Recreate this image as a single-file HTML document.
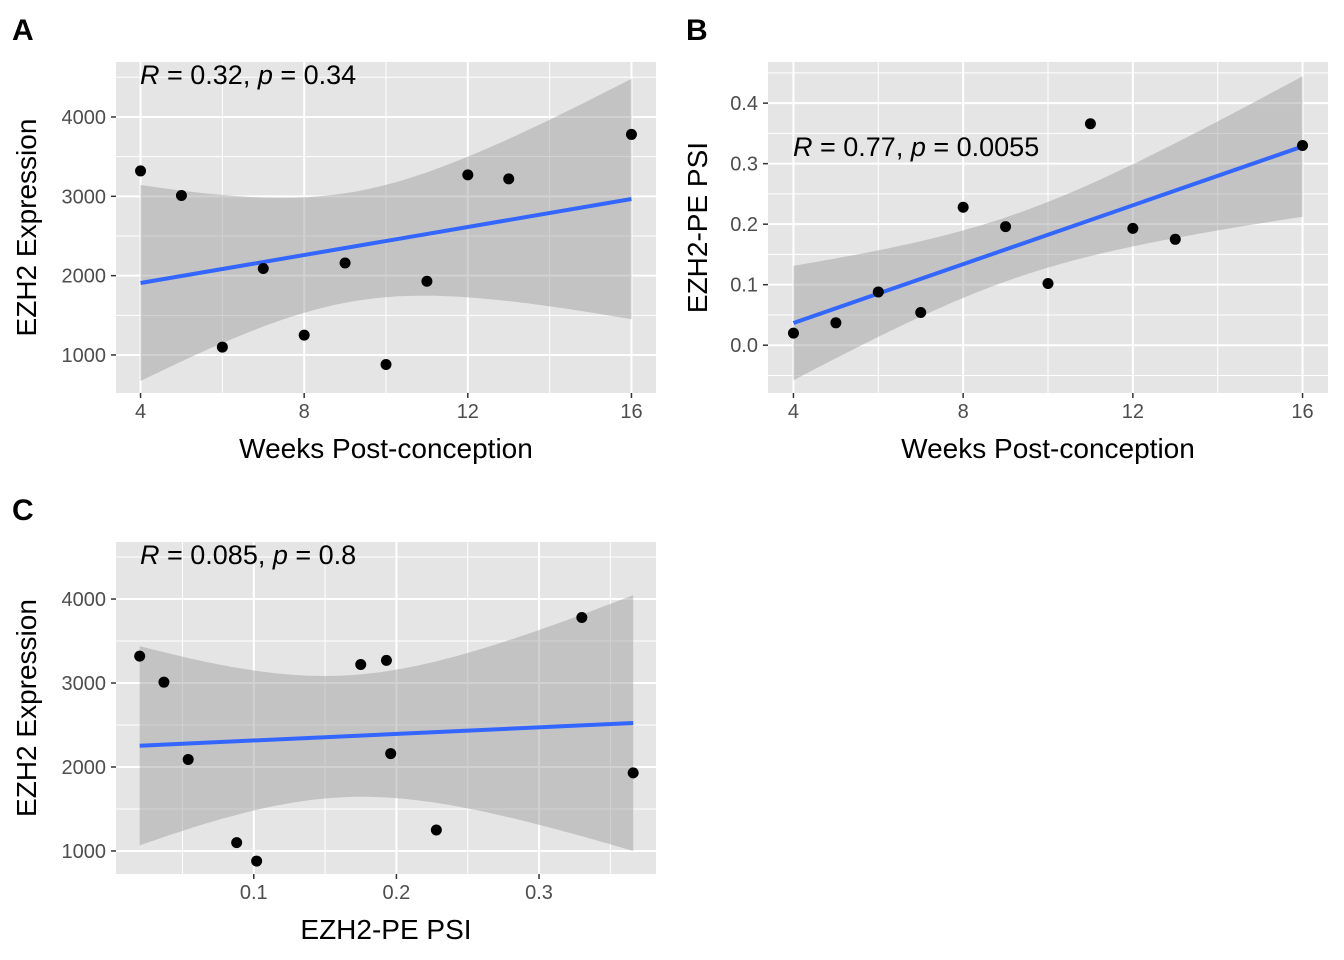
<!DOCTYPE html>
<html><head><meta charset="utf-8">
<style>
html,body{margin:0;padding:0;background:#fff;}
svg{display:block;font-family:"Liberation Sans",Arial,sans-serif;}
</style></head>
<body>
<svg id="fig" width="1344" height="960" viewBox="0 0 1344 960" xmlns="http://www.w3.org/2000/svg"></svg>
<script>
const weeks = [4,5,6,7,8,9,10,11,12,13,16];
const expression = [3320,3010,1100,2090,1250,2160,880,1930,3270,3220,3780];
const psi = [0.020,0.037,0.088,0.054,0.228,0.196,0.102,0.366,0.193,0.175,0.330];
const weekTicks = [4,8,12,16];
const weekMinor = [6,10,14];
const exprTicks = [1000,2000,3000,4000];
const exprMinor = [500,1500,2500,3500,4500];
const psiTicks = [0.0,0.1,0.2,0.3,0.4];
const psiMinor = [-0.05,0.05,0.15,0.25,0.35,0.45];
const psiXTicks = [0.1,0.2,0.3];
const psiXMinor = [0.05,0.15,0.25,0.35];
const statsA = ["0.32","0.34"];
const statsB = ["0.77","0.0055"];
const statsC = ["0.085","0.8"];

const NS="http://www.w3.org/2000/svg";
const svg=document.getElementById('fig');
function mk(tag,attrs,parent){const e=document.createElementNS(NS,tag);for(const k in attrs)e.setAttribute(k,attrs[k]);(parent||svg).appendChild(e);return e;}

function panel(p){
  const g=mk('g',{});
  
  
  const sx=v=>p.x0+(v-p.xd[0])/(p.xd[1]-p.xd[0])*(p.x1-p.x0);
  const sy=v=>p.y1-(v-p.yd[0])/(p.yd[1]-p.yd[0])*(p.y1-p.y0);
  const bg=mk('rect',{x:p.x0,y:p.y0,width:p.x1-p.x0,height:p.y1-p.y0,fill:'#e5e5e5'},g);
  
  
  p.xMinor.forEach(v=>{if(v>p.xd[0]&&v<p.xd[1])mk('line',{x1:sx(v),x2:sx(v),y1:p.y0,y2:p.y1,stroke:'#fff','stroke-width':1},g);});
  p.yMinor.forEach(v=>{if(v>p.yd[0]&&v<p.yd[1])mk('line',{y1:sy(v),y2:sy(v),x1:p.x0,x2:p.x1,stroke:'#fff','stroke-width':1},g);});
  p.xTicks.forEach(v=>{
    mk('line',{x1:sx(v),x2:sx(v),y1:p.y0,y2:p.y1,stroke:'#fff','stroke-width':2},g);
    mk('line',{x1:sx(v),x2:sx(v),y1:p.y1,y2:p.y1+5,stroke:'#333','stroke-width':1.5},g);
    const t=mk('text',{x:sx(v),y:p.y1+25,'text-anchor':'middle','font-size':20,fill:'#4d4d4d'},g);
    t.textContent=p.xFmt(v);
    
    
  });
  p.yTicks.forEach(v=>{
    mk('line',{y1:sy(v),y2:sy(v),x1:p.x0,x2:p.x1,stroke:'#fff','stroke-width':2},g);
    mk('line',{y1:sy(v),y2:sy(v),x1:p.x0-5,x2:p.x0,stroke:'#333','stroke-width':1.5},g);
    const t=mk('text',{x:p.x0-10,y:sy(v)+7,'text-anchor':'end','font-size':20,fill:'#4d4d4d'},g);
    t.textContent=p.yFmt(v);
    
    
  });
  const X=p.xs,Y=p.ys,n=X.length;
  const mx=X.reduce((a,b)=>a+b)/n,my=Y.reduce((a,b)=>a+b)/n;
  let sxx=0,sxy=0;for(let i=0;i<n;i++){sxx+=(X[i]-mx)**2;sxy+=(X[i]-mx)*(Y[i]-my);}
  const b=sxy/sxx,a=my-b*mx;
  let sse=0;for(let i=0;i<n;i++)sse+=(Y[i]-a-b*X[i])**2;
  const s=Math.sqrt(sse/(n-2)),tq=2.262;
  const xmin=Math.min(...X),xmax=Math.max(...X);
  const up=[],lo=[];
  for(let k=0;k<=80;k++){const x=xmin+(xmax-xmin)*k/80;const f=a+b*x;const se=s*Math.sqrt(1/n+(x-mx)**2/sxx);
    up.push(sx(x).toFixed(1)+','+sy(f+tq*se).toFixed(1));lo.unshift(sx(x).toFixed(1)+','+sy(f-tq*se).toFixed(1));}
  const band=mk('polygon',{points:up.concat(lo).join(' '),fill:'#999','fill-opacity':0.45},g);
  
  
  const ln=mk('line',{x1:sx(xmin),y1:sy(a+b*xmin),x2:sx(xmax),y2:sy(a+b*xmax),stroke:'#3366FF','stroke-width':4},g);
  
  
  for(let i=0;i<n;i++){
    const c=mk('circle',{cx:sx(X[i]),cy:sy(Y[i]),r:5.5,fill:'#000'},g);
    
    
  }
  const st=mk('text',{x:p.lx,y:p.ly,'font-size':27,fill:'#000'},g);
  st.innerHTML='<tspan font-style="italic">R</tspan> = '+p.stats[0]+', <tspan font-style="italic">p</tspan> = '+p.stats[1];
  
  
  const xt=mk('text',{x:(p.x0+p.x1)/2,y:p.y1+65,'text-anchor':'middle','font-size':28,fill:'#000'},g);
  xt.textContent=p.xTitle;
  
  
  const yc=(p.y0+p.y1)/2;
  const yt=mk('text',{x:p.ytx,y:yc,'text-anchor':'middle','font-size':28,fill:'#000',transform:`rotate(-90 ${p.ytx} ${yc})`},g);
  yt.textContent=p.yTitle;
  
  
  const L=mk('text',{x:p.tagx,y:p.tagy,'font-size':30,'font-weight':'bold',fill:'#000'},g);
  L.textContent=p.tag;
  
  
}
const intF=v=>String(v), f1=v=>v.toFixed(1);
panel({name:'panel-a',tag:'A',tagx:12,tagy:40,x0:116,x1:656,y0:62,y1:393,xd:[3.4,16.6],yd:[521,4693],
  xs:weeks,ys:expression,xTicks:weekTicks,xMinor:weekMinor,yTicks:exprTicks,yMinor:exprMinor,xFmt:intF,yFmt:intF,
  stats:statsA,lx:140,ly:84,xTitle:'Weeks Post-conception',yTitle:'EZH2 Expression',ytx:36});
panel({name:'panel-b',tag:'B',tagx:686,tagy:40,x0:768,x1:1328,y0:62,y1:393,xd:[3.4,16.6],yd:[-0.079,0.468],
  xs:weeks,ys:psi,xTicks:weekTicks,xMinor:weekMinor,yTicks:psiTicks,yMinor:psiMinor,xFmt:intF,yFmt:f1,
  stats:statsB,lx:793,ly:156,xTitle:'Weeks Post-conception',yTitle:'EZH2-PE PSI',ytx:707});
panel({name:'panel-c',tag:'C',tagx:12,tagy:520,x0:116,x1:656,y0:542,y1:874,xd:[0.0034,0.382],yd:[726,4679],
  xs:psi,ys:expression,xTicks:psiXTicks,xMinor:psiXMinor,yTicks:exprTicks,yMinor:exprMinor,xFmt:f1,yFmt:intF,
  stats:statsC,lx:140,ly:564,xTitle:'EZH2-PE PSI',yTitle:'EZH2 Expression',ytx:36});
</script>
</body></html>
